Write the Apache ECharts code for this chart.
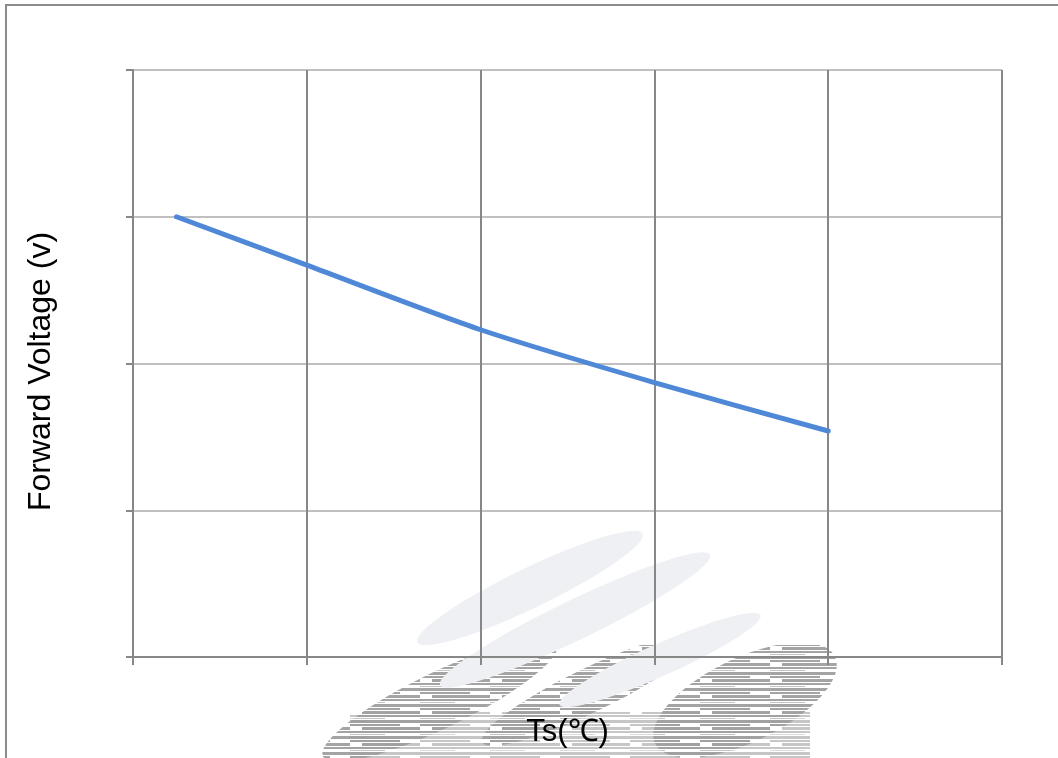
<!DOCTYPE html>
<html>
<head>
<meta charset="utf-8">
<script src="https://cdn.jsdelivr.net/npm/echarts@6/dist/echarts.min.js"></script>
<style>
html,body{margin:0;padding:0;background:#fff;}
#chart{width:1058px;height:758px;}
</style>
</head>
<body>
<div id="chart"></div>
<script>
// Data
var xValues = [0.25, 1, 2, 3, 4];
var forwardVoltage = [3.00, 2.67, 2.23, 1.87, 1.54];
var xTitle = 'Ts(℃)';
var yTitle = 'Forward Voltage (v)';

var seriesData = xValues.map(function (x, i) { return [x, forwardVoltage[i]]; });

// streaky pattern for the watermark remnants (horizontal streaks)
var pc = document.createElement('canvas');
pc.width = 70; pc.height = 16;
var pctx = pc.getContext('2d');
pctx.fillStyle = '#ffffff'; pctx.fillRect(0, 0, 70, 16);
pctx.fillStyle = '#a0a0a0';
pctx.fillRect(0, 0, 70, 3);
pctx.fillRect(0, 4, 50, 2);
pctx.fillRect(12, 7, 58, 3);
pctx.fillRect(0, 11, 70, 2);
pctx.fillStyle = '#c2c2c2';
pctx.fillRect(0, 14, 35, 1);
var streak = { image: pc, repeat: 'repeat' };

function ellPoly(cx, cy, rx, ry, rot) {
  var pts = [];
  for (var i = 0; i < 48; i++) {
    var t = i / 48 * Math.PI * 2;
    var x = rx * Math.cos(t), y = ry * Math.sin(t);
    pts.push([cx + x * Math.cos(rot) + y * Math.sin(rot), cy - x * Math.sin(rot) + y * Math.cos(rot)]);
  }
  return pts;
}

var chart = echarts.init(document.getElementById('chart'));
var dark = '#878787';
var light = '#c0c0c0';
var font = "'Liberation Sans', Arial, sans-serif";

function ell(cx, cy, rx, ry, rot, fill, z, op) {
  return { type: 'polygon', shape: { points: ellPoly(cx, cy, rx, ry, rot) },
           style: { fill: fill, opacity: op == null ? 1 : op }, z: z, silent: true };
}

chart.setOption({
  animation: false,
  backgroundColor: '#ffffff',
  grid: { left: 133, right: 56, top: 70, bottom: 101, containLabel: false },
  graphic: [
    { type: 'rect', shape: { x: 6, y: 5, width: 1200, height: 900 }, style: { fill: 'none', stroke: '#8c8c8c', lineWidth: 2 }, z: 0, silent: true },
    // watermark remnants (streaky gray, lower part)
    ell(440, 700, 130, 28, 0.45, streak, -4, 0.95),
    ell(590, 690, 120, 22, 0.45, streak, -4, 0.95),
    ell(745, 700, 100, 42, 0.45, streak, -4, 0.95),
    { type: 'rect', shape: { x: 350, y: 712, width: 460, height: 46 }, style: { fill: streak, opacity: 0.6 }, z: -4, silent: true },
    { type: 'rect', shape: { x: 300, y: 0, width: 600, height: 645 }, style: { fill: '#ffffff' }, z: -3, silent: true },
    // pale watermark ellipses
    ell(530, 588, 125, 20, 0.45, '#eef0f3', -2),
    ell(575, 620, 150, 20, 0.45, '#eef0f3', -2),
    ell(660, 660, 110, 16, 0.42, '#eef0f3', -2)
  ],
  xAxis: {
    type: 'value', min: 0, max: 5, interval: 1,
    name: xTitle, nameLocation: 'middle', nameGap: 60,
    nameTextStyle: { fontFamily: font, fontSize: 31, color: '#000' },
    axisLine: { show: true, lineStyle: { color: dark, width: 2 } },
    axisTick: { show: true, length: 8, lineStyle: { color: dark, width: 2 } },
    axisLabel: { show: false },
    splitLine: { show: true, lineStyle: { color: dark, width: 2 } }
  },
  yAxis: {
    type: 'value', min: 0, max: 4, interval: 1,
    name: yTitle, nameLocation: 'middle', nameGap: 76, nameRotate: 90,
    nameTextStyle: { fontFamily: font, fontSize: 32, color: '#000', padding: [0, 16, 0, 0] },
    axisLine: { show: true, lineStyle: { color: dark, width: 2 } },
    axisTick: { show: true, length: 7, lineStyle: { color: dark, width: 2 } },
    axisLabel: { show: false },
    splitLine: { show: true, lineStyle: { color: light, width: 2 } }
  },
  series: [{
    type: 'line',
    data: seriesData,
    smooth: 0.25,
    showSymbol: false,
    lineStyle: { color: '#4f88d6', width: 5, cap: 'round' },
    z: 5
  }]
});
</script>
</body>
</html>
